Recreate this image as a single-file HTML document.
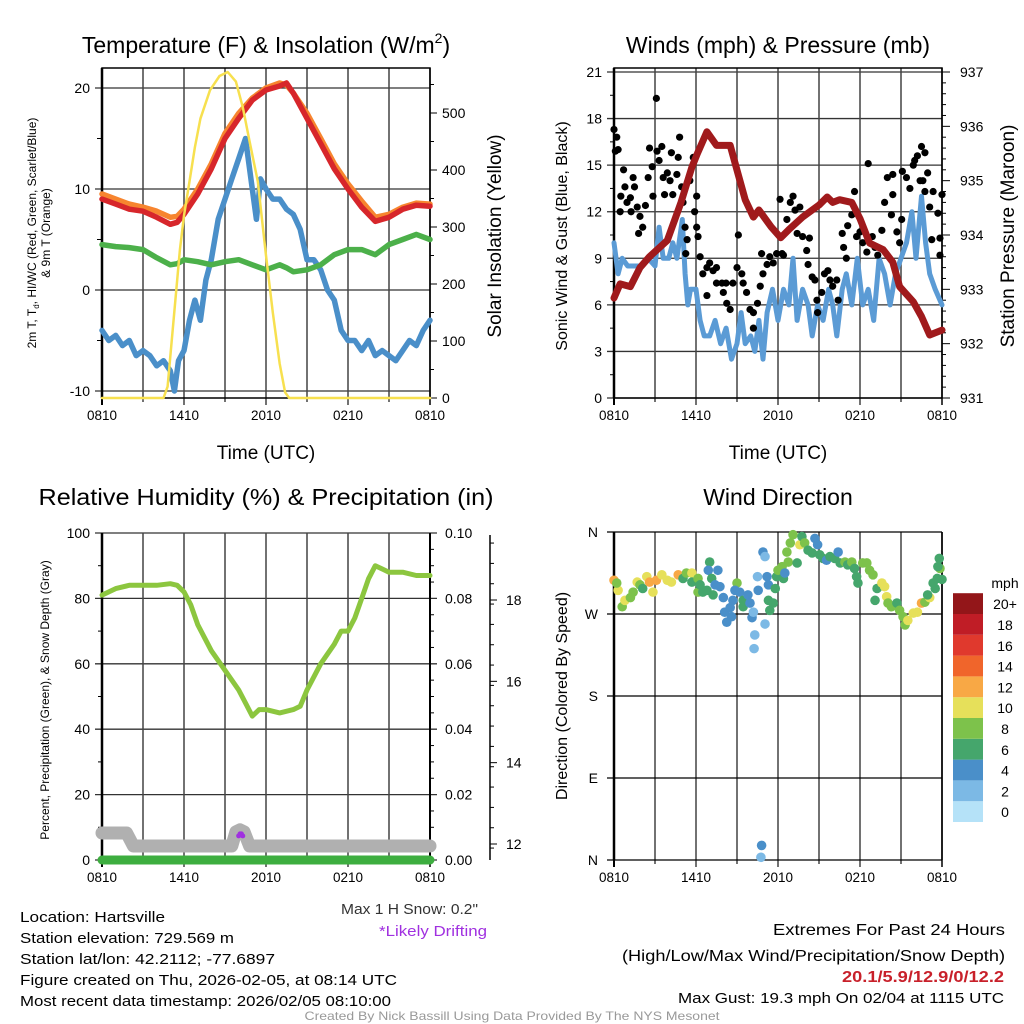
<!DOCTYPE html>
<html><head><meta charset="utf-8">
<style>
html,body{margin:0;padding:0;background:#fff;}
svg{display:block;font-family:"Liberation Sans",sans-serif;}
</style></head>
<body>
<svg id="chart" width="1024" height="1024" viewBox="0 0 1024 1024" xmlns="http://www.w3.org/2000/svg"></svg>
<script>
// ---------- Panel 1 data ----------
const tempTimes = [0,1,2,3,4,5,5.5,6,7,8,9,10,11,12,13,13.5,14,15,16,17,18,19,20,21,22,23,24];
const temp9m = [9.5,9,8.5,8.2,7.8,7.2,7.3,8,10,12.5,15.5,17.5,19,20,20.5,20.3,19.5,17.5,15,12.5,10.5,8.8,7.2,7.5,8.2,8.6,8.5];
const temp2m = [9,8.5,8,7.8,7.2,6.5,6.7,7.5,9.5,12,15,17,18.8,19.8,20.2,20.5,19.5,17,14.5,12,10,8.2,6.8,7.2,8,8.4,8.3];
const dewpoint = [4.5,4.3,4.2,4,3.2,2.5,2.6,3,2.8,2.5,2.8,3,2.5,2,2.5,2.2,1.8,2,2.5,3.5,4,4,3.5,4.5,5,5.5,5];
const chillTimes = [0,0.5,1,1.5,2,2.5,3,3.5,4,4.5,5,5.3,5.6,6,6.4,6.8,7.2,7.6,8,8.5,9,9.5,10,10.5,11,11.3,11.6,12,12.5,13,13.5,14,14.5,15,15.5,16,16.5,17,17.5,18,18.5,19,19.5,20,20.5,21,21.5,22,22.5,23,23.5,24];
const windChill = [-4,-5,-4.5,-5.5,-5,-6.5,-6,-6.5,-7.5,-7,-8,-10,-7,-6,-3,-1,-3,1,3,7,9,11,13,15,10,7,11,10,9,9,8,7.5,6,3,3,2,0,-1,-4,-5,-5,-6,-5,-6.5,-6,-6.5,-7,-6,-5,-5.5,-4,-3];
const solarTimes = [0,4.5,4.8,5.1,5.4,5.7,6.0,6.4,6.8,7.2,7.9,8.6,9.2,9.8,10.3,10.8,11.4,12,12.5,13,13.4,13.7,24];
const solar = [0,0,20,100,180,260,320,380,440,490,540,565,572,555,510,450,380,250,150,60,10,0,0];
const tempTicks = [-10,0,10,20];
const solarTicks = [0,100,200,300,400,500];
const timeLabels = ["0810","1410","2010","0210","0810"];
// ---------- Panel 2 data ----------
const windTimes = [0,0.3,0.6,1,1.5,2,2.5,3,3.3,3.6,4,4.3,4.6,5,5.2,5.4,5.6,6,6.3,6.6,7,7.4,7.8,8.2,8.6,9,9.3,9.6,10,10.3,10.6,10.9,11.2,11.6,12,12.4,12.8,13.1,13.4,13.8,14.2,14.5,14.9,15.3,15.7,16,16.3,16.7,17,17.4,17.8,18.2,18.6,19,19.4,19.8,20.2,20.6,21,21.4,21.8,22.1,22.5,22.8,23.1,23.5,24];
const windSpeed = [10,8,9,8.5,8.5,8.5,9,8.5,11,9,9,10,9,11.5,8,6,7,7,5,4,4,5,3.5,4.5,2.5,3.5,5.5,3.5,4,3,5,2.5,5.5,7,5,7,6,9,5,7,6,4,6,5,7,6,4,7,8,6,9,6,7,5,9,8,6,8,9,10,12,9,13,10,8,7,6];
const gustTimes = [0,0.2,0.1,0.3,0.7,0.5,0.45,0.8,0.95,1.2,1.4,1.5,1.25,1.7,1.9,1.8,2.1,2.3,2.6,2.8,2.5,2.85,3.15,3.3,3.1,3.5,3.6,3.9,3.7,4.1,4.2,4.3,4.6,4.7,4.8,4.95,5.05,5.55,5.8,5.9,6.05,5.2,5.35,5.25,6.05,6.15,6.3,6.5,6.8,7.0,7.25,7.5,6.8,7.5,7.9,8.0,8.25,8.5,8.2,8.7,9.0,9.1,9.35,9.45,9.7,9.95,10.2,10.2,10.5,10.7,10.9,10.8,11.2,11.4,11.65,11.9,12.15,12.3,12.4,12.65,12.9,13.1,13.25,13.4,13.6,13.8,14.1,14.3,14.2,14.5,14.7,14.85,14.9,15.2,15.4,15.65,15.8,16.0,16.3,16.4,16.7,16.8,17.0,17.1,17.4,17.6,17.75,18.0,18.2,18.5,18.6,18.9,19.1,19.3,19.6,19.8,20.0,20.4,20.4,20.3,20.7,20.9,21.05,21.1,21.4,21.65,21.9,22.0,22.2,22.5,22.75,22.4,22.6,22.75,22.95,23.1,23.25,23.35,23.7,23.85,24,23.85];
const gustSpeed = [17.3,16.8,15.9,16.0,14.7,13.0,12.0,13.6,12.6,12.9,14.2,13.6,12.0,12.3,11.7,10.6,11.0,12.4,16.1,14.9,14.2,13.0,15.9,15.3,19.3,16.2,14.2,14.5,13.1,14.0,15.8,13.1,14.4,15.5,16.8,13.6,12.6,14.0,15.5,12.0,13.0,11.0,10.2,9.3,11.0,10.4,9.1,8.0,8.4,8.7,8.2,8.4,6.6,7.4,7.4,6.8,6.1,5.7,7.4,7.4,8.4,10.5,8.0,7.4,6.8,5.7,5.5,4.5,6.1,7.2,8.0,9.3,8.6,9.1,8.7,9.3,12.8,9.3,9.2,11.5,12.6,13.0,12.1,10.6,12.3,10.4,9.5,10.3,8.6,7.8,7.6,6.3,5.5,6.8,8.0,8.2,7.6,7.2,7.6,6.3,10.6,9.7,9.0,11.1,11.8,13.3,10.4,10.7,10.0,9.4,15.1,10.4,9.7,9.2,10.8,12.6,14.2,14.4,13.1,11.8,10.7,10.0,11.5,14.6,14.2,13.5,15.0,15.3,15.6,16.2,15.8,14.0,14.0,13.3,14.5,12.3,10.2,13.3,11.9,9.2,13.1,10.3];
const presTimes = [0,0.45,1.2,1.9,2.6,3.9,4.9,5.7,6.1,6.8,7.5,8.5,9.1,9.6,10.2,10.6,11.5,12.2,12.8,13.8,15.0,15.6,16.0,16.5,17.4,18.0,18.7,19.7,20.4,20.9,21.9,22.5,23.1,24];
const pressure = [932.84,933.1,933.05,933.4,933.6,933.9,934.6,935.25,935.5,935.9,935.65,935.65,935.1,934.65,934.33,934.46,934.15,933.95,934.1,934.33,934.55,934.7,934.6,934.65,934.6,934.3,933.85,933.73,933.5,933.05,932.77,932.5,932.16,932.25];
const windTicks = [0,3,6,9,12,15,18,21];
const presTicks = [931,932,933,934,935,936,937];
// ---------- Panel 3 data ----------
const rhTimes = [0,1,2,3,4,5,5.5,6,6.5,7,8,9,10,10.5,11,11.5,12,13,14,14.5,15,16,17,17.5,18,18.5,19,19.5,20,21,22,23,24];
const rh = [81,83,84,84,84,84.5,84,82,78,72,64,58,52,48,44,46,46,45,46,47,52,60,66,70,70,74,80,86,90,88,88,87,87];
const snowTimes = [0,1.8,2.3,9.5,9.8,10.1,10.4,10.8,24];
const snowDepth = [12.27,12.27,11.95,11.95,12.3,12.35,12.3,11.95,11.95];
const driftTimes = [10.0,10.1,10.2,10.3];
const driftDepth = [12.2,12.25,12.25,12.2];
const precipTimes = [0,24];
const precip = [0,0];
const rhTicks = [0,20,40,60,80,100];
const precipTicks = ["0.00","0.02","0.04","0.06","0.08","0.10"];
const snowTicks = [12,14,16,18];
// ---------- Panel 4 data ----------
const dirTimes = [0,0.3,0.2,0.6,0.8,1.2,1.4,1.7,1.9,2.1,2.4,2.6,2.85,3.1,3.5,3.9,4.2,4.7,5.05,5.3,5.7,5.7,6.15,6.15,6.3,6.5,6.8,7.0,6.9,7.15,7.4,7.6,7.25,7.75,8.0,8.1,8.5,8.6,8.25,8.7,9.0,8.85,9.2,9.45,9.45,9.8,9.95,10.1,10.2,10.3,10.25,10.5,10.55,10.9,11.05,11.05,11.2,11.3,11.3,11.4,11.65,11.8,11.9,12.0,12.3,12.4,12.5,12.75,12.65,12.9,13.1,13.4,13.6,13.75,13.95,14.2,14.5,14.7,14.9,15.05,15.3,15.55,15.8,16.15,16.4,16.55,16.9,17.1,17.4,17.6,17.75,17.85,18.2,18.5,18.7,18.95,19.1,19.25,19.6,19.8,19.95,20.05,20.3,20.7,20.9,21.15,21.3,21.5,21.9,22.2,22.5,22.75,23.1,22.95,23.5,23.35,23.65,23.85,23.7,23.8,24,10.8,10.75];
const direction = [307,296,304,278,285,288,294,305,302,298,311,305,294,307,313,307,305,313,309,315,315,305,309,294,302,294,296,327,318,309,302,318,291,300,288,272,277,267,261,285,304,296,294,285,278,291,282,266,272,247,232,311,296,338,333,259,311,302,285,274,282,298,311,318,322,309,315,327,338,348,357,326,346,355,348,340,337,353,346,335,331,329,333,331,338,326,327,324,327,320,311,304,326,326,318,313,285,298,304,300,289,282,278,282,274,267,258,263,271,272,282,283,288,291,298,304,309,320,322,331,308,16,3];
const dirSpeed = [12,10,8,8,10,8,8,10,8,6,10,12,10,12,10,10,10,12,6,8,10,6,8,8,6,6,6,6,4,6,4,4,6,4,4,4,4,4,4,4,8,4,4,6,6,4,4,4,2,2,2,2,4,4,2,2,4,4,6,6,6,6,6,8,8,6,4,8,8,8,8,6,10,6,8,6,6,4,4,6,6,4,6,6,4,6,8,6,8,6,6,6,8,8,8,8,6,6,10,10,10,8,8,6,8,8,8,10,10,10,12,8,10,6,6,6,6,8,6,6,6,4,2];
const dirLabels = ["N","E","S","W","N"];
const colorLabels = ["0","2","4","6","8","10","12","14","16","18","20+"];
const colorScale = ["#b5e2f8","#7cb9e5","#4a8fc9","#45a66c","#7dc24b","#e6e05a","#f8a845","#f0652b","#e0392d","#c01d26","#931619"];

const svg = document.getElementById('chart');
const NS = 'http://www.w3.org/2000/svg';
function el(tag, attrs, parent){
  const e = document.createElementNS(NS, tag);
  for (const k in attrs) e.setAttribute(k, attrs[k]);
  (parent||svg).appendChild(e);
  return e;
}
function txt(s, x, y, size, anchor, parent, extra){
  const t = el('text', Object.assign({x:x, y:y, 'font-size':size, 'text-anchor':anchor||'middle', fill:'#000'}, extra||{}), parent);
  t.textContent = s;
  return t;
}
function linear(d0,d1,r0,r1){ return v => r0 + (v-d0)/(d1-d0)*(r1-r0); }
function pathD(ts, vs, sx, sy){ return ts.map((t,i)=>(i?'L':'M')+sx(t).toFixed(1)+' '+sy(vs[i]).toFixed(1)).join(''); }
function line(p, ts, vs, sx, sy, color, w, name){
  const e = el('path', {d:pathD(ts,vs,sx,sy), fill:'none', stroke:color, 'stroke-width':w, 'stroke-linejoin':'round', 'stroke-linecap':'round'}, p);
  
  
  return e;
}
function timeAxis(p, sx, y0, y1, labels){
  for (let h=0; h<=24; h+=3){
    const x = sx(h);
    const g = el('line', {x1:x, x2:x, y1:y0, y2:y1 + (h%6===0?7:4), stroke:h===0||h===24?'#000':'#444', 'stroke-width':h===0?2:1.5}, p);
    
    
  }
  labels.forEach((l,i)=>{
    const t = txt(l, sx(i*6), y1+22, 14, 'middle', p, {textLength:30, lengthAdjust:'spacingAndGlyphs'});
    
    
  });
}
function group(name){
  const g = el('g', {});
  
  
  return g;
}

// ================= PANEL 1 =================
(function(){
  const p = group('temperature-panel');
  const L=102,R=430,T=68,B=398;
  const sx = linear(0,24,L,R);
  const sy = linear(-10,20,391,88);
  const ss = linear(0,500,398,113);
  tempTicks.forEach(v=>{ const g=el('line',{x1:L-7,x2:R,y1:sy(v),y2:sy(v),stroke:'#333','stroke-width':1.3},p);  
    const t=txt(String(v),L-12,sy(v)+5,14,'end',p);   });
  [-5,5,15].forEach(v=>el('line',{x1:L-5,x2:L,y1:sy(v),y2:sy(v),stroke:'#000'},p));
  timeAxis(p, sx, T, B, timeLabels);
  solarTicks.forEach(v=>{ el('line',{x1:R,x2:R+7,y1:ss(v),y2:ss(v),stroke:'#000'},p); el('line',{x1:R,x2:R+4,y1:ss(v+50),y2:ss(v+50),stroke:'#000'},p);
    const t=txt(String(v),R+12,ss(v)+5,14,'start',p);   });
  const box = el('rect',{x:L,y:T,width:R-L,height:B-T,fill:'none',stroke:'#000','stroke-width':1.5},p);
   
  el('line',{x1:L,x2:L,y1:T,y2:B,stroke:'#000','stroke-width':2.5},p);
  line(p, chillTimes, windChill, sx, sy, '#4a8fc9', 5.5, 'wind-chill-line');
  line(p, tempTimes, dewpoint, sx, sy, '#4cb04a', 5.5, 'dewpoint-line');
  line(p, tempTimes, temp9m, sx, sy, '#f7852f', 5.5, 'temp-9m-line');
  line(p, tempTimes, temp2m, sx, sy, '#d7262b', 5.5, 'temp-2m-line');
  line(p, solarTimes, solar, sx, ss, '#f7e04f', 2.5, 'solar-line');
  const ttl = el('text',{x:266,y:53,'font-size':23,'text-anchor':'middle'},p);
  ttl.innerHTML = 'Temperature (F) &amp; Insolation (W/m<tspan font-size="14" dy="-10">2</tspan><tspan dy="10">)</tspan>';
   
  const xl = txt('Time (UTC)',266,459,19,'middle',p);  
  const yl = el('text',{transform:'translate(36,233) rotate(-90)','font-size':12,'text-anchor':'middle'},p);
  yl.innerHTML = '2m T, T<tspan font-size="8" dy="3">d</tspan><tspan dy="-3">, HI/WC (Red, Green, Scarlet/Blue)</tspan>';
   
  const yl2 = txt('& 9m T (Orange)',0,0,12,'middle',p,{transform:'translate(50,233) rotate(-90)'});  
  const yr = txt('Solar Insolation (Yellow)',0,0,19,'middle',p,{transform:'translate(501,236) rotate(-90)'});  
})();

// ================= PANEL 2 =================
(function(){
  const p = group('winds-panel');
  const L=614,R=942,T=68,B=398;
  const sx = linear(0,24,L,R);
  const sy = linear(0,21,398,72);
  const sp = linear(931,937,398,72);
  windTicks.forEach(v=>{ const g=el('line',{x1:L-7,x2:R,y1:sy(v),y2:sy(v),stroke:'#333','stroke-width':1.3},p);  
    if (v<21) el('line',{x1:L-4,x2:L,y1:sy(v+1.5),y2:sy(v+1.5),stroke:'#000'},p);
    const t=txt(String(v),L-12,sy(v)+5,14,'end',p);   });
  presTicks.forEach(v=>{ el('line',{x1:R,x2:R+8,y1:sp(v),y2:sp(v),stroke:'#000'},p);
    if (v<937) for(let k=1;k<5;k++) el('line',{x1:R,x2:R+4,y1:sp(v+k*0.2),y2:sp(v+k*0.2),stroke:'#000'},p);
    const t=txt(String(v),R+18,sp(v)+5,14,'start',p);   });
  timeAxis(p, sx, T, B, timeLabels);
  const box = el('rect',{x:L,y:T,width:R-L,height:B-T,fill:'none',stroke:'#000','stroke-width':1.5},p);
   
  el('line',{x1:L,x2:L,y1:T,y2:B,stroke:'#000','stroke-width':2.5},p);
  line(p, windTimes, windSpeed, sx, sy, '#5b9bd5', 5, 'sonic-wind-line');
  gustTimes.forEach((t,i)=>{ const c=el('circle',{cx:sx(t),cy:sy(gustSpeed[i]),r:3.6,fill:'#000'},p);
      });
  line(p, presTimes, pressure, sx, sp, '#a01a1c', 7, 'pressure-line');
  const ttl = txt('Winds (mph) & Pressure (mb)',778,53,23,'middle',p);  
  const xl = txt('Time (UTC)',778,459,19,'middle',p);  
  const yl = txt('Sonic Wind & Gust (Blue, Black)',0,0,16,'middle',p,{transform:'translate(567,236) rotate(-90)'});  
  const yr = txt('Station Pressure (Maroon)',0,0,19,'middle',p,{transform:'translate(1014,236) rotate(-90)'});  
})();

// ================= PANEL 3 =================
(function(){
  const p = group('humidity-panel');
  const L=102,R=430,T=533,B=860;
  const sx = linear(0,24,L,R);
  const sy = linear(0,100,860,533);
  const sn = linear(12,18,844,600);
  rhTicks.forEach((v,i)=>{ const g=el('line',{x1:L-7,x2:R+7,y1:sy(v),y2:sy(v),stroke:'#333','stroke-width':1.3},p);  
    if (v<100) {
      el('line',{x1:L-4,x2:L,y1:sy(v+10),y2:sy(v+10),stroke:'#000'},p);
      for(let k=1;k<4;k++) el('line',{x1:R,x2:R+4,y1:sy(v+k*5),y2:sy(v+k*5),stroke:'#000'},p);
    }
    const t=txt(String(v),L-12,sy(v)+5,14,'end',p);  
    const t2=txt(precipTicks[i],R+15,sy(v)+5,14,'start',p);   });
  timeAxis(p, sx, T, B, timeLabels);
  el('line',{x1:L,x2:L,y1:T,y2:B,stroke:'#000','stroke-width':2.5},p);
  el('line',{x1:R,x2:R,y1:T,y2:B,stroke:'#000','stroke-width':2},p);
  el('line',{x1:L,x2:R,y1:B,y2:B,stroke:'#000','stroke-width':1.5},p);
  const ax3 = el('line',{x1:490,x2:490,y1:535,y2:860,stroke:'#000','stroke-width':1.5},p);
   
  for(let v=11.9; v<=19.6; v+=0.5) el('line',{x1:490,x2:494,y1:sn(v),y2:sn(v),stroke:'#000'},p);
  snowTicks.forEach(v=>{ el('line',{x1:490,x2:497,y1:sn(v),y2:sn(v),stroke:'#000'},p);
    const t=txt(String(v),506,sn(v)+5,14,'start',p);   });
  line(p, snowTimes, snowDepth, sx, sn, '#b0b0b0', 13, 'snow-depth-line');
  driftTimes.forEach((t,i)=>{ const c=el('circle',{cx:sx(t),cy:sn(driftDepth[i]),r:2.5,fill:'#a030e0'},p);
      });
  const sp = linear(0,0.1,860,533);
  line(p, precipTimes, precip, sx, sp, '#3dae3f', 9, 'precip-line');
  line(p, rhTimes, rh, sx, sy, '#8cc63f', 5, 'rh-line');
  const ttl = txt('Relative Humidity (%) & Precipitation (in)',266,505,23,'middle',p,{textLength:455,lengthAdjust:'spacingAndGlyphs'});  
  const yl = txt('Percent, Precipitation (Green), & Snow Depth (Gray)',0,0,12,'middle',p,{transform:'translate(49,700) rotate(-90)'});  
})();

// ================= PANEL 4 =================
(function(){
  const p = group('wind-direction-panel');
  const L=614,R=942,T=532,B=860;
  const sx = linear(0,24,L,R);
  const sy = linear(0,360,860,532);
  timeAxis(p, sx, T, B, timeLabels);
  dirLabels.forEach((l,i)=>{ const v=i*90; const g=el('line',{x1:L-7,x2:R,y1:sy(v),y2:sy(v),stroke:'#000','stroke-width':1.3},p);  
    const t=txt(l,L-16,sy(v)+5,14,'end',p);   });
  el('line',{x1:L,x2:L,y1:T,y2:B,stroke:'#000','stroke-width':2.5},p);
  el('line',{x1:R,x2:R,y1:T,y2:B,stroke:'#000','stroke-width':1.5},p);
  dirTimes.forEach((t,i)=>{ const idx=Math.min(10,Math.round(dirSpeed[i]/2)); const c=el('circle',{cx:sx(t),cy:sy(direction[i]),r:4.8,fill:colorScale[idx]},p);
      });
  const ttl = txt('Wind Direction',778,505,23,'middle',p);  
  const yl = txt('Direction (Colored By Speed)',0,0,16,'middle',p,{transform:'translate(567,696) rotate(-90)'});  
  const lg = group('speed-colorbar');
  const u = txt('mph',1005,588,14,'middle',lg);  
  colorScale.forEach((c,i)=>{ const y = 822 - (i+1)*20.8;
    const r=el('rect',{x:953,y:y,width:30,height:20.8,fill:c},lg);  
    const t=txt(colorLabels[i],1005,y+16,14,'middle',lg);   });
})();

// ================= FOOTER TEXT =================
(function(){
  const p = group('info-text');
  const left = ["Location: Hartsville","Station elevation: 729.569 m","Station lat/lon: 42.2112; -77.6897","Figure created on Thu, 2026-02-05, at 08:14 UTC","Most recent data timestamp: 2026/02/05 08:10:00"];
  const lens = [145,214,255,377,371];
  left.forEach((s,i)=>{ const t=txt(s,20,922+i*21,15,'start',p,{textLength:lens[i],lengthAdjust:'spacingAndGlyphs'});   });
  const a=txt('Max 1 H Snow: 0.2"',478,914,15,'end',p,{fill:'#333',textLength:137,lengthAdjust:'spacingAndGlyphs'});  
  const b=txt('*Likely Drifting',487,936,15,'end',p,{fill:'#a030e0',textLength:108,lengthAdjust:'spacingAndGlyphs'});  
  const c=txt('Extremes For Past 24 Hours',1005,935,16,'end',p,{textLength:232,lengthAdjust:'spacingAndGlyphs'});  
  const d=txt('(High/Low/Max Wind/Precipitation/Snow Depth)',1005,961,16,'end',p,{textLength:383,lengthAdjust:'spacingAndGlyphs'});  
  const e=txt('20.1/5.9/12.9/0/12.2',1004,982,16,'end',p,{fill:'#c8202a','font-weight':'bold',textLength:162,lengthAdjust:'spacingAndGlyphs'});  
  const f=txt('Max Gust: 19.3 mph On 02/04 at 1115 UTC',1004,1003,15,'end',p,{textLength:326,lengthAdjust:'spacingAndGlyphs'});  
  const g=txt('Created By Nick Bassill Using Data Provided By The NYS Mesonet',512,1020,12,'middle',p,{fill:'#999',textLength:415,lengthAdjust:'spacingAndGlyphs'});  
})();
</script>
</body></html>
